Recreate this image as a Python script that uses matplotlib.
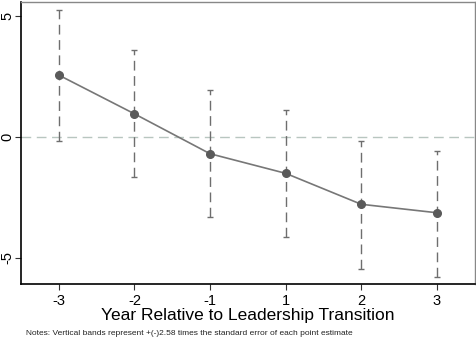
import matplotlib.pyplot as plt
import numpy as np

# event-time estimates and their +/- 2.58 SE bands
years = ['-3', '-2', '-1', '1', '2', '3']
estimate = [2.56, 0.96, -0.69, -1.50, -2.78, -3.13]
upper = [5.25, 3.60, 1.94, 1.12, -0.15, -0.57]
lower = [-0.16, -1.64, -3.29, -4.15, -5.44, -5.79]

plt.rcParams['font.family'] = ['Liberation Sans', 'DejaVu Sans']


def main():
    fig = plt.figure(figsize=(4.77, 3.42), dpi=100)
    ax = fig.add_axes([0.044, 0.170, 0.951, 0.824])

    x = np.arange(len(years))
    est = np.array(estimate)

    # zero reference line
    ax.axhline(0, color='#b8c6c0', lw=1.0, ls=(0, (7, 4)), zorder=1)

    # confidence bands as dashed vertical lines with small caps
    eb = ax.errorbar(x, est, yerr=[est - np.array(lower), np.array(upper) - est],
                     fmt='none', ecolor='#6e6e6e', elinewidth=1.0, capsize=2.5,
                     capthick=1.0, zorder=2)
    eb[2][0].set_linestyle((0, (7, 4)))

    ax.plot(x, est, '-', color='#777777', lw=1.2, zorder=3)
    ax.plot(x, est, 'o', color='#5a5a5a', ms=5.5, zorder=4)

    ax.set_xlim(-0.5, 5.5)
    ax.set_ylim(-6.07, 5.58)
    ax.set_xticks(x)
    ax.set_xticklabels(years, fontsize=10.5)
    ax.set_yticks([-5, 0, 5])
    ax.set_yticklabels(['-5', '0', '5'], fontsize=10.5, rotation=90, va='center')
    ax.tick_params(direction='out', length=4, width=0.8, color='#333333')
    ax.tick_params(axis='y', pad=1)
    ax.tick_params(axis='x', pad=3)

    for side in ['left', 'bottom']:
        ax.spines[side].set_color('black')
        ax.spines[side].set_linewidth(1.2)
    for side in ['top', 'right']:
        ax.spines[side].set_color('#888888')
        ax.spines[side].set_linewidth(1.0)

    ax.set_xlabel('Year Relative to Leadership Transition', fontsize=12.5, labelpad=0)

    fig.text(0.055, 0.02,
             'Notes: Vertical bands represent +(-)2.58 times the standard error of each point estimate',
             fontsize=6, color='#222222')

    plt.savefig('out.png', dpi=100)


if __name__ == "__main__":
    main()
